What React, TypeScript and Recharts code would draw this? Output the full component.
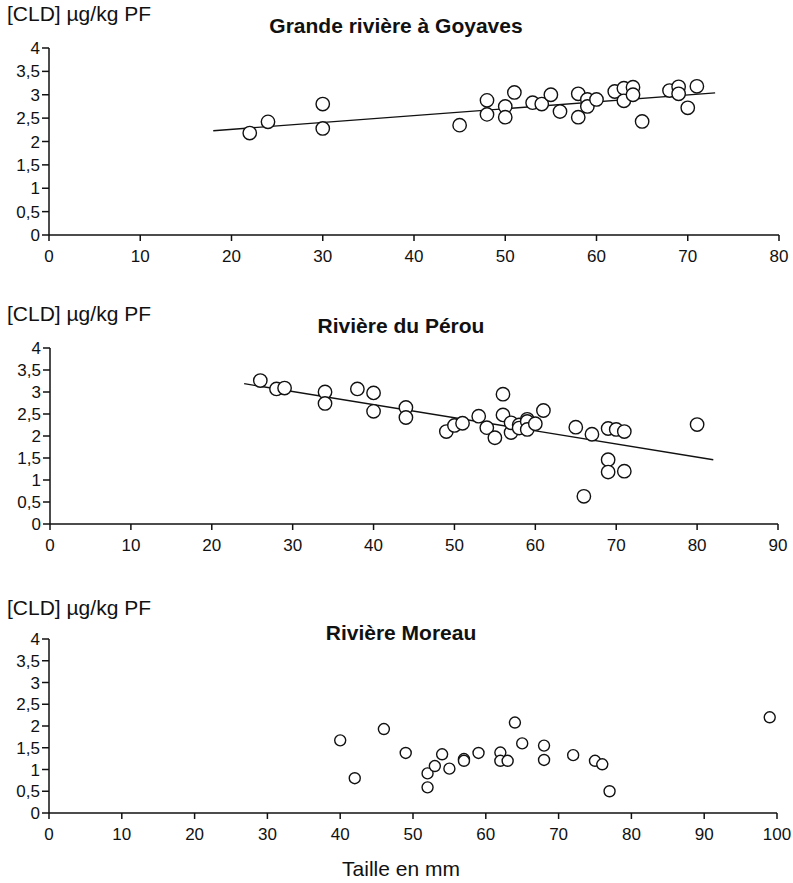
import { ScatterChart, Scatter, XAxis, YAxis } from 'recharts'

const yTicks = [0, 0.5, 1, 1.5, 2, 2.5, 3, 3.5, 4]

// Grande rivière à Goyaves
const goyavesTaille = [22, 24, 30, 30, 45, 48, 48, 50, 50, 51, 53, 54, 55, 56, 58, 58, 59, 59, 60, 62, 63, 63, 64, 64, 65, 68, 69, 69, 70, 71]
const goyavesCld = [2.18, 2.42, 2.8, 2.28, 2.35, 2.88, 2.58, 2.75, 2.52, 3.05, 2.83, 2.8, 3.0, 2.64, 3.02, 2.52, 2.9, 2.75, 2.9, 3.07, 3.14, 2.87, 3.16, 3.0, 2.43, 3.09, 3.17, 3.02, 2.72, 3.18]
const goyavesTrendTaille = [18, 73]
const goyavesTrendCld = [2.23, 3.04]
const goyavesTicks = [0, 10, 20, 30, 40, 50, 60, 70, 80]

// Rivière du Pérou
const perouTaille = [26, 28, 29, 34, 34, 38, 40, 40, 44, 44, 49, 50, 51, 53, 54, 55, 56, 56, 57, 57, 58, 58, 59, 59, 59, 60, 61, 65, 66, 67, 69, 69, 69, 70, 71, 71, 80]
const perouCld = [3.26, 3.07, 3.09, 3.0, 2.74, 3.07, 2.98, 2.56, 2.65, 2.42, 2.1, 2.24, 2.29, 2.45, 2.19, 1.96, 2.95, 2.48, 2.08, 2.3, 2.25, 2.18, 2.38, 2.33, 2.15, 2.28, 2.58, 2.2, 0.63, 2.04, 2.17, 1.46, 1.18, 2.15, 2.1, 1.2, 2.26]
const perouTrendTaille = [24, 82]
const perouTrendCld = [3.19, 1.46]
const perouTicks = [0, 10, 20, 30, 40, 50, 60, 70, 80, 90]

// Rivière Moreau
const moreauTaille = [40, 42, 46, 49, 52, 52, 53, 54, 55, 57, 57, 59, 62, 62, 63, 64, 65, 68, 68, 72, 75, 76, 77, 99]
const moreauCld = [1.67, 0.8, 1.93, 1.38, 0.91, 0.59, 1.08, 1.35, 1.02, 1.24, 1.2, 1.38, 1.39, 1.2, 1.2, 2.08, 1.6, 1.55, 1.22, 1.33, 1.2, 1.12, 0.5, 2.2]
const moreauTicks = [0, 10, 20, 30, 40, 50, 60, 70, 80, 90, 100]

const font = '"Liberation Sans", Arial, Helvetica, sans-serif'

const toPoints = (xs: number[], ys: number[]) => xs.map((x, i) => ({ x, y: ys[i] }))

function Panel({ top, margin, xMax, xTicks, points, trend, r }: {
  top: number
  margin: { top: number; right: number; left: number; bottom: number }
  xMax: number
  xTicks: number[]
  points: { x: number; y: number }[]
  trend?: { x: number; y: number }[]
  r: number
}) {
  const tick = { fontSize: 17, fill: '#111', fontFamily: font }
  const axisLine = { stroke: '#111', strokeWidth: 1.5 }
  return (
    <div style={{ position: 'absolute', left: 0, top }}>
      <ScatterChart width={793} height={270} margin={margin}>
        <XAxis
          type="number"
          dataKey="x"
          domain={[0, xMax]}
          ticks={xTicks}
          interval={0}
          height={30}
          tick={tick}
          axisLine={axisLine}
          tickLine={axisLine}
          tickSize={6}
          tickMargin={9}
        />
        <YAxis
          type="number"
          dataKey="y"
          domain={[0, 4]}
          ticks={yTicks}
          interval={0}
          width={44}
          tick={tick}
          axisLine={axisLine}
          tickLine={axisLine}
          tickSize={7}
          tickMargin={2}
          tickFormatter={(v: number) => String(v).replace('.', ',')}
        />
        {trend && (
          <Scatter
            data={trend}
            line={{ stroke: '#111', strokeWidth: 1.3 }}
            shape={() => <g />}
            isAnimationActive={false}
          />
        )}
        <Scatter
          data={points}
          isAnimationActive={false}
          shape={(p: any) => (
            <circle cx={p.cx} cy={p.cy} r={r} fill="#fff" stroke="#111" strokeWidth={1.4} />
          )}
        />
      </ScatterChart>
    </div>
  )
}

const label = (text: string, top: number, left: number, bold = false, center = false) => (
  <div
    style={{
      position: 'absolute',
      top,
      left: center ? left - 200 : left,
      width: center ? 400 : undefined,
      textAlign: center ? 'center' : 'left',
      fontFamily: font,
      fontSize: 21,
      lineHeight: '21px',
      fontWeight: bold ? 'bold' : 'normal',
      color: '#111',
      whiteSpace: 'nowrap',
    }}
  >
    {text}
  </div>
)

export default function App() {
  return (
    <div style={{ position: 'absolute', left: 0, top: 0, width: 793, height: 883, background: '#fff' }}>
      <Panel
        top={0}
        margin={{ top: 48, right: 14, left: 5, bottom: 5 }}
        xMax={80}
        xTicks={goyavesTicks}
        points={toPoints(goyavesTaille, goyavesCld)}
        trend={toPoints(goyavesTrendTaille, goyavesTrendCld)}
        r={6.7}
      />
      <Panel
        top={300}
        margin={{ top: 48, right: 15, left: 6, bottom: 16 }}
        xMax={90}
        xTicks={perouTicks}
        points={toPoints(perouTaille, perouCld)}
        trend={toPoints(perouTrendTaille, perouTrendCld)}
        r={6.7}
      />
      <Panel
        top={590}
        margin={{ top: 49, right: 16, left: 5, bottom: 17 }}
        xMax={100}
        xTicks={moreauTicks}
        points={toPoints(moreauTaille, moreauCld)}
        r={5.5}
      />
      {label('[CLD] µg/kg PF', 3, 7)}
      {label('Grande rivière à Goyaves', 15, 396, true, true)}
      {label('[CLD] µg/kg PF', 303, 7)}
      {label('Rivière du Pérou', 315, 401, true, true)}
      {label('[CLD] µg/kg PF', 597, 7)}
      {label('Rivière Moreau', 622, 401, true, true)}
      {label('Taille en mm', 858, 401, false, true)}
    </div>
  )
}
